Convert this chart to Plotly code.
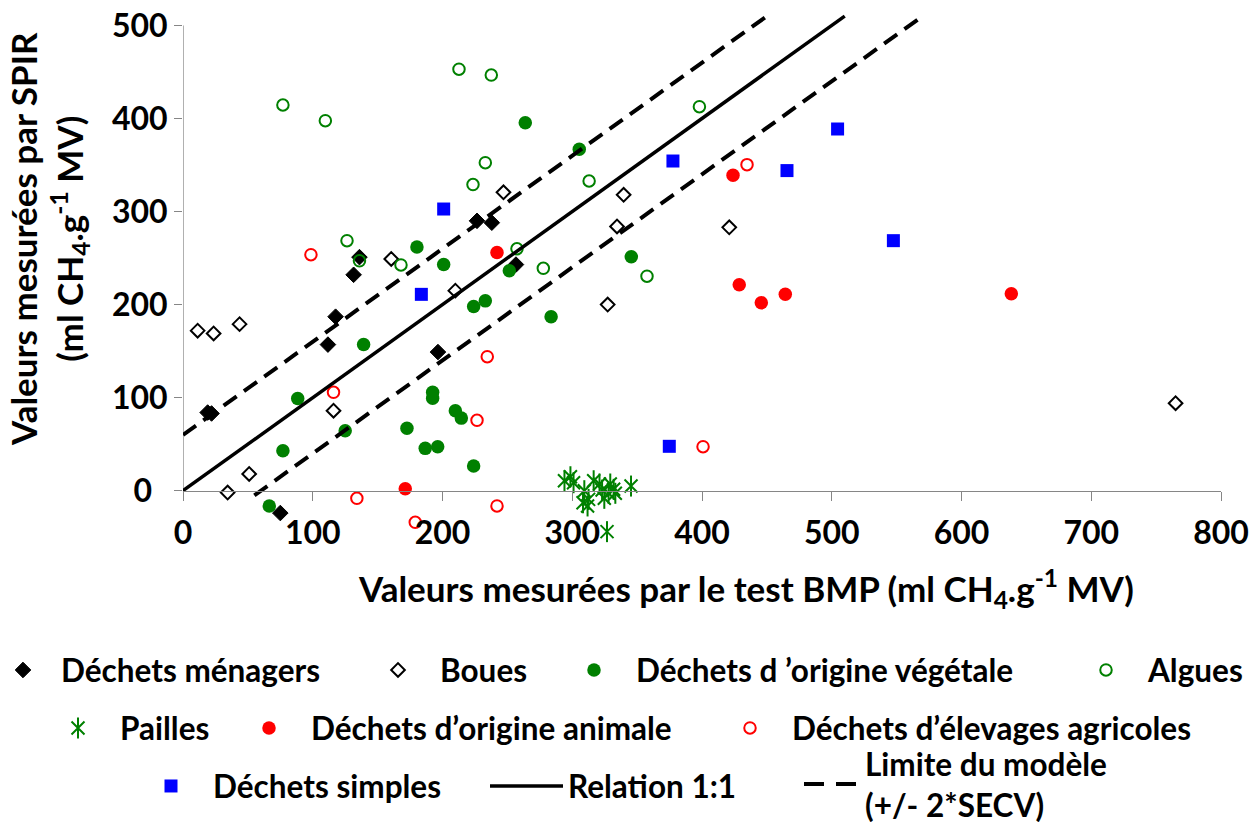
import plotly.graph_objects as go

# ---------------- data ----------------
menagers_x = [19, 22, 111.7, 117.6, 131.5, 136, 196.5, 226.6, 238, 256.6, 75]
menagers_y = [84, 83, 157, 187, 232, 251, 149, 290, 288, 243, -24]

boues_x = [11.3, 23.6, 43.6, 116, 51, 34.4, 209.9, 160.5, 247, 339.6, 334.5, 421, 327.3, 765]
boues_y = [172, 169, 179, 86, 18, -2, 215, 249, 320.7, 318, 284, 283, 200, 94]

vegetale_x = [263.8, 305.4, 180.3, 200.9, 251.5, 345.5, 224, 233, 283.7, 139.2, 88.4, 77, 125,
              66.5, 172.6, 186.7, 196.3, 192.4, 192.4, 209.9, 214.5, 224]
vegetale_y = [395.5, 367, 262, 243, 236.4, 251.5, 198, 204, 187, 157, 99, 43, 64.5,
              -16.4, 67, 45.5, 47.3, 105.7, 99.3, 86, 78, 26.5]

algues_x = [77, 109.7, 212.7, 237.6, 233, 223.5, 126.4, 136, 168, 257.4, 398, 313, 277.7, 357.6]
algues_y = [414.5, 397.6, 453, 446.7, 352.5, 329, 268.7, 247, 242.6, 260, 412.7, 332.8, 239, 230.5]

pailles_x = [294, 298.6, 301, 316.5, 321, 329.3, 331.9, 345.3, 309.3, 308.3, 311.8, 312.6,
             324.7, 328, 333.2, 326.8, 323]
pailles_y = [10.7, 15, 8.6, 10.7, 7.2, 7.2, 1.5, 5, 0, -13, -16.4, -9.3,
             -8.2, -2.8, -2.8, -44, 0.7]

animale_x = [171.3, 242, 423.9, 428.7, 445.7, 464.2, 638.4]
animale_y = [2.2, 256, 339, 221.4, 202, 211, 211.6]

elevages_x = [98.6, 116, 134, 179, 234.5, 226.6, 242, 434.7, 400.8]
elevages_y = [253.6, 105.7, -8.2, -34, 144, 75.6, -16.4, 350.4, 47.3]

simples_x = [200.9, 183.7, 377.6, 465.5, 504.5, 547.5, 374.8]
simples_y = [302.7, 211, 354.3, 344, 388.7, 268.7, 47.7]

relation_x = [0, 510]
secv2 = 60                    # 2*SECV
limite_up_x = [0, 450]
limite_low_x = [55, 570]

x_ticks = [0, 100, 200, 300, 400, 500, 600, 700, 800]
y_ticks = [0, 100, 200, 300, 400, 500]
y_ticktext = ["0\u00a0\u00a0", "100", "200", "300", "400", "500"]

# ---------------- layout geometry ----------------
W, H = 1260, 822
ML, MR, MT, MB = 183, 39, 7, 275
PW, PH = W - ML - MR, H - MT - MB
Y_RANGE = [-60.5, 519.8]
X_RANGE = [0, 800]

GREEN = "#008000"
RED = "#FF0000"
BLUE = "#0000FF"
BLACK = "#000000"
GRAY = "#868686"
FONT = "Lato"


def px_to_paper(px, py):
    return (px - ML) / PW, 1 - (py - MT) / PH


fig = go.Figure()


def add_markers(name, xs, ys, symbol, color, size, lw, legend, showlegend=True):
    fig.add_trace(go.Scatter(
        x=xs, y=ys, mode="markers", name=name, legend=legend, showlegend=showlegend,
        marker=dict(symbol=symbol, size=size, color=color,
                    line=dict(color=color, width=lw)),
    ))


add_markers("Déchets ménagers", menagers_x, menagers_y, "diamond", BLACK, 12, 1, "legend")
add_markers("Boues", boues_x, boues_y, "diamond-open", BLACK, 10.5, 2, "legend2")
add_markers("Déchets d \u2019origine végétale", vegetale_x, vegetale_y, "circle", GREEN, 13.5, 0, "legend3")
add_markers("Algues", algues_x, algues_y, "circle-open", GREEN, 11.5, 2, "legend4")
add_markers("Pailles", pailles_x, pailles_y, "x-thin-open", GREEN, 13, 2, "legend5")
add_markers("", pailles_x, pailles_y, "line-ns-open", GREEN, 15, 2, "legend11")
add_markers("Déchets d\u2019origine animale", animale_x, animale_y, "circle", RED, 13.5, 0, "legend6")
add_markers("Déchets d\u2019élevages agricoles", elevages_x, elevages_y, "circle-open", RED, 11.5, 2, "legend7")
add_markers("Déchets simples", simples_x, simples_y, "square", BLUE, 13, 0, "legend8")

fig.add_trace(go.Scatter(
    x=relation_x, y=relation_x, mode="lines", name="Relation 1:1", legend="legend9",
    line=dict(color=BLACK, width=3.5),
))
lim_x = limite_up_x + [None] + limite_low_x
lim_y = [v + secv2 for v in limite_up_x] + [None] + [v - secv2 for v in limite_low_x]
fig.add_trace(go.Scatter(
    x=lim_x, y=lim_y, mode="lines", name="Limite du modèle<br>(+/- 2*SECV)", legend="legend10",
    showlegend=False, legendgroup="lim",
    line=dict(color=BLACK, width=4, dash="16px,9px"),
))
# legend sample of the limit lines (Excel draws longer dashes in its legend key)
fig.add_trace(go.Scatter(
    x=[None], y=[None], mode="lines", name="Limite du modèle<br>(+/- 2*SECV)", legend="legend10",
    legendgroup="lim", line=dict(color=BLACK, width=4, dash="20px,12px"),
))

# legends: one per entry, positioned like the reference
leg_font = dict(family=FONT, size=31.5, color=BLACK, weight="bold")
IW = 74
CP = (IW + 10) / 2
legend_pos = {
    "legend2": (398, 670), "legend3": (594, 670), "legend4": (1106, 670),
    "legend5": (78, 728), "legend6": (269, 728), "legend7": (750, 728),
    "legend8": (171, 786), "legend11": (78, 728),
}
legends = {}
for key, (mx, my) in legend_pos.items():
    lx, ly = px_to_paper(mx - CP, my)
    legends[key] = dict(x=lx, y=ly, xanchor="left", yanchor="middle", font=leg_font,
                        bgcolor="rgba(0,0,0,0)", borderwidth=0, itemwidth=IW)
lx, ly = px_to_paper(0, 670)
legends["legend"] = dict(x=lx, y=ly, xanchor="left", yanchor="middle", font=leg_font,
                         bgcolor="rgba(0,0,0,0)", borderwidth=0, itemwidth=66, indentation=-15)
lx, ly = px_to_paper(485, 786)
legends["legend9"] = dict(x=lx, y=ly, xanchor="left", yanchor="middle", font=leg_font,
                          bgcolor="rgba(0,0,0,0)", borderwidth=0, itemwidth=73)
lx, ly = px_to_paper(799, 784)
legends["legend10"] = dict(x=lx, y=ly, xanchor="left", yanchor="middle", font=leg_font,
                           bgcolor="rgba(0,0,0,0)", borderwidth=0, itemwidth=56)

ypos0 = (0 - Y_RANGE[0]) / (Y_RANGE[1] - Y_RANGE[0])

fig.update_layout(
    width=W, height=H,
    margin=dict(l=ML, r=MR, t=MT, b=MB, autoexpand=False),
    plot_bgcolor="white", paper_bgcolor="white",
    font=dict(family=FONT, color=BLACK),
    xaxis=dict(
        range=X_RANGE, anchor="free", position=ypos0,
        showline=True, linecolor=GRAY, linewidth=1.3,
        showgrid=False, zeroline=False,
        tickmode="array", tickvals=x_ticks,
        ticks="outside", ticklen=9, tickcolor=GRAY, tickwidth=1.3,
        ticklabelstandoff=5,
        tickfont=dict(family=FONT, size=32, color=BLACK, weight="bold"),
    ),
    yaxis=dict(
        range=Y_RANGE, showline=False, showgrid=False, zeroline=False,
        tickmode="array", tickvals=y_ticks, ticktext=y_ticktext,
        ticks="outside", ticklen=8, tickcolor=GRAY, tickwidth=1.3,
        tickfont=dict(family=FONT, size=32, color=BLACK, weight="bold"),
    ),
    showlegend=True,
    **legends,
)

# y axis line from 0 to 500
fig.add_shape(type="line", xref="x", yref="y", x0=0, x1=0, y0=y_ticks[0], y1=y_ticks[-1],
              line=dict(color=GRAY, width=1.3), layer="below")

# axis titles
tx, ty = px_to_paper(746, 588)
fig.add_annotation(text="Valeurs mesurées par le test BMP (ml CH<sub>4</sub>.g<sup>-1</sup> MV)",
                   xref="paper", yref="paper", x=tx, y=ty, showarrow=False,
                   xanchor="center", yanchor="middle",
                   font=dict(family=FONT, size=35, color=BLACK, weight="bold"))
tx, ty = px_to_paper(49, 239)
fig.add_annotation(text="Valeurs mesurées par SPIR<br>(ml CH<sub>4</sub>.g<sup>-1</sup> MV)",
                   xref="paper", yref="paper", x=tx, y=ty, showarrow=False, textangle=-90,
                   xanchor="center", yanchor="middle",
                   font=dict(family=FONT, size=35, color=BLACK, weight="bold"))

fig.write_html("out.html", config={"displayModeBar": False},
               post_script="document.body.style.margin='0px';")
